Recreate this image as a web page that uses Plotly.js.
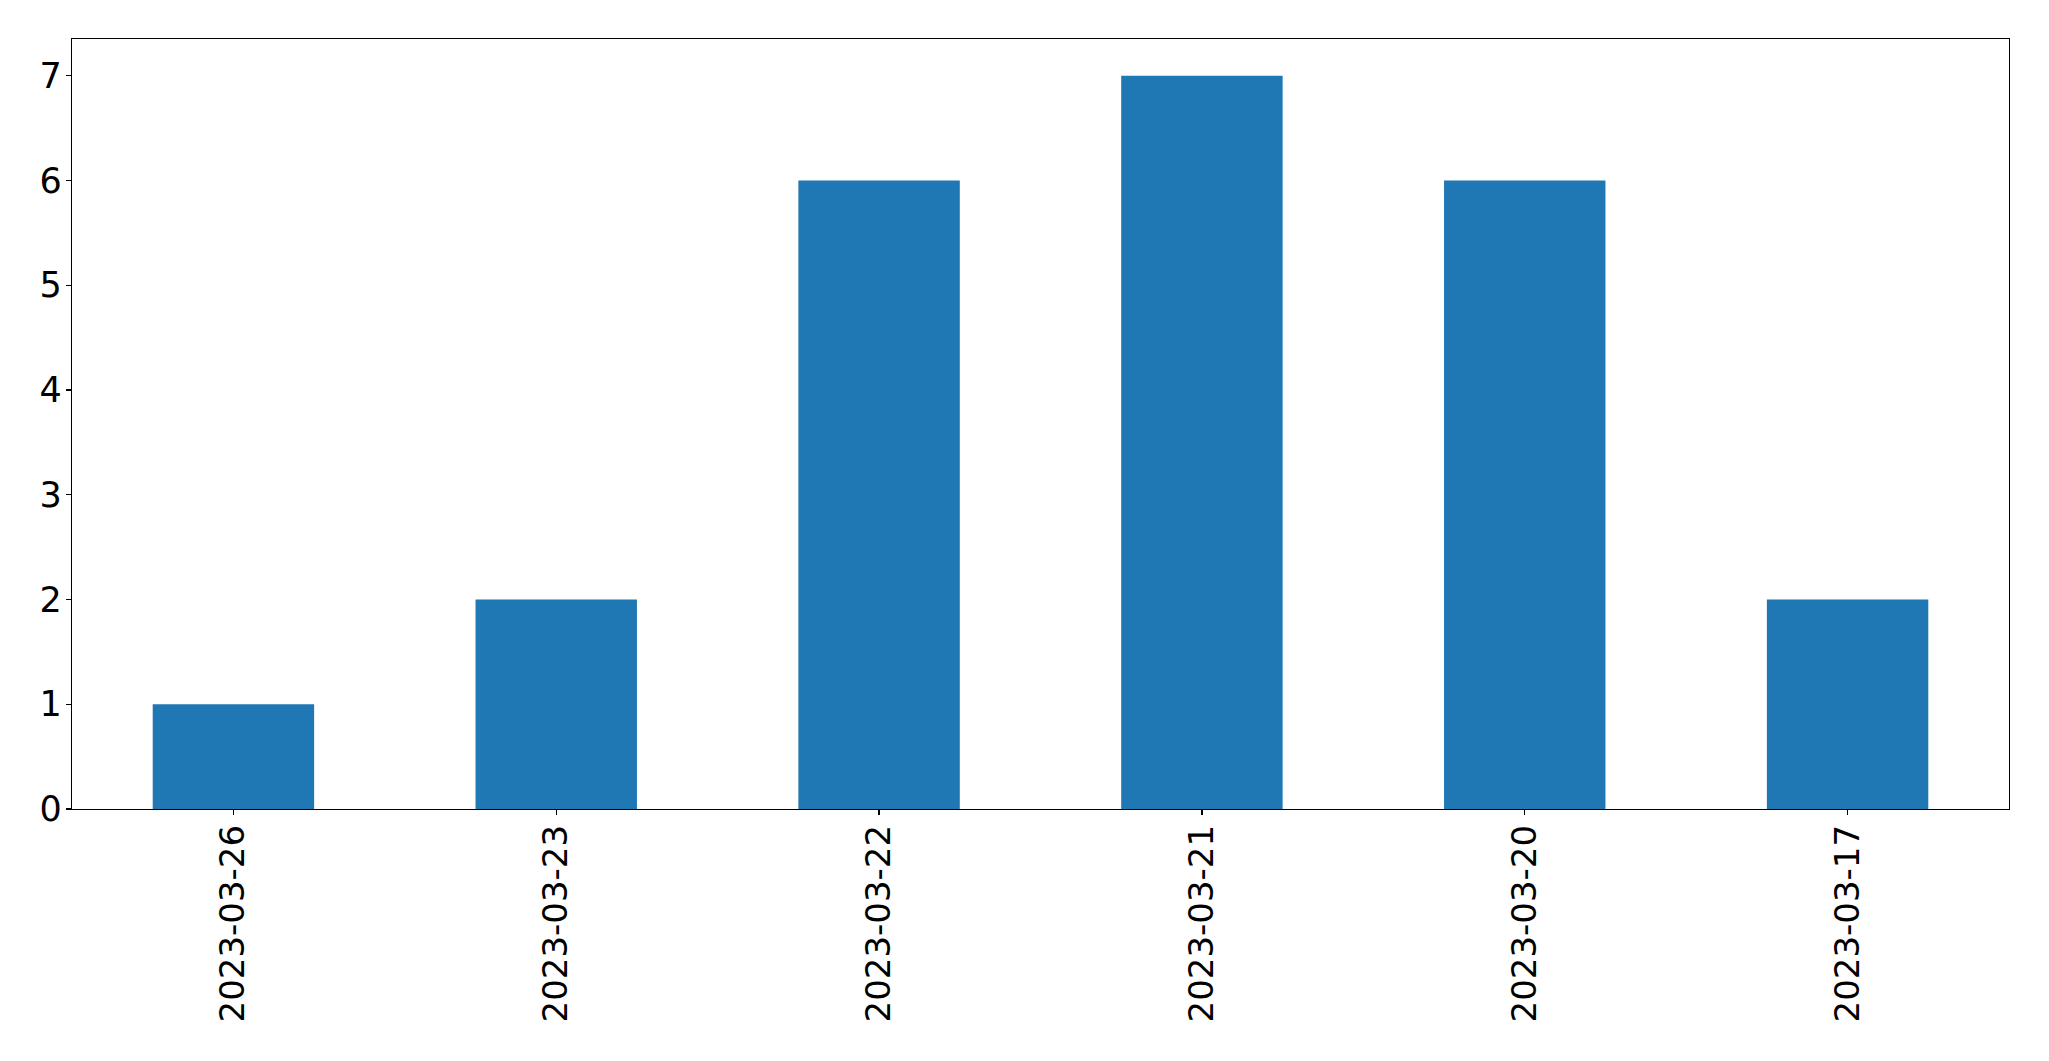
<!DOCTYPE html>
<html>
<head>
<meta charset="utf-8">
<script src="https://cdn.plot.ly/plotly-3.0.1.min.js"></script>
<style>html,body{margin:0;padding:0;background:#fff;}#chart{width:2049px;height:1061px;}</style>
</head>
<body>
<div id="chart"></div>
<script>
const dates = ["2023-03-26", "2023-03-23", "2023-03-22", "2023-03-21", "2023-03-20", "2023-03-17"];
const counts = [1, 2, 6, 7, 6, 2];
const yTicks = [0, 1, 2, 3, 4, 5, 6, 7];

const trace = {
  type: "bar",
  x: dates,
  y: counts,
  marker: {color: "#1f77b4", line: {width: 0}},
  width: 0.5,
  hoverinfo: "x+y"
};

const yFont = {family: "DejaVu Sans, sans-serif", size: 35, color: "#000"};
const xFont = {family: "DejaVu Sans, sans-serif", size: 34, color: "#000"};

const layout = {
  width: 2049,
  height: 1061,
  margin: {l: 72, r: 40, t: 39, b: 252, pad: 0},
  paper_bgcolor: "#fff",
  plot_bgcolor: "#fff",
  showlegend: false,
  bargap: 0.5,
  xaxis: {
    type: "category",
    range: [-0.5, dates.length - 0.5],
    tickangle: -90,
    tickfont: xFont,
    ticks: "outside",
    ticklen: 5,
    tickwidth: 1.2,
    tickcolor: "#000",
    showline: true,
    linecolor: "#000",
    linewidth: 1.3,
    mirror: true,
    showgrid: false,
    zeroline: false,
    ticklabelstandoff: -4
  },
  yaxis: {
    range: [0, 7.35],
    tickmode: "array",
    tickvals: yTicks,
    ticktext: yTicks.map(String),
    tickfont: yFont,
    ticks: "outside",
    ticklen: 5,
    tickwidth: 1.2,
    tickcolor: "#000",
    showline: true,
    linecolor: "#000",
    linewidth: 1.3,
    mirror: true,
    showgrid: false,
    zeroline: false,
    ticklabelstandoff: -3
  }
};

Plotly.newPlot("chart", [trace], layout, {displayModeBar: false, staticPlot: true});
</script>
</body>
</html>
